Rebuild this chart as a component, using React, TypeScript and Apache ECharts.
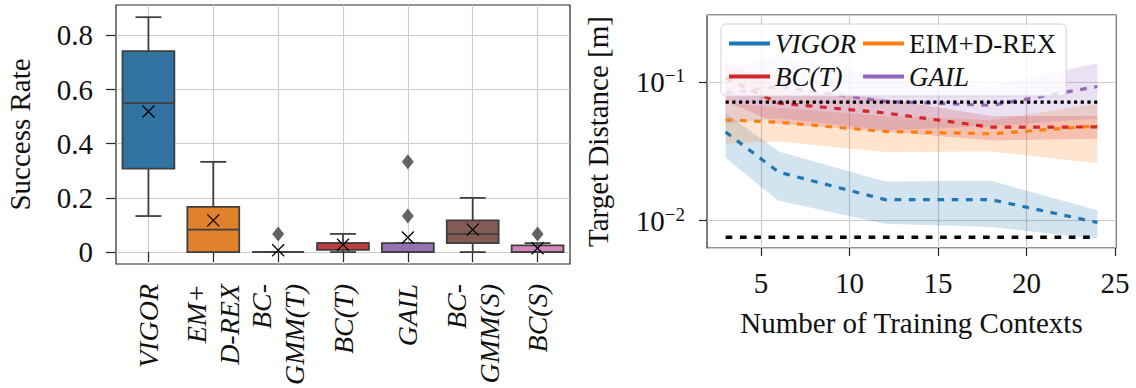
import React, { useEffect, useRef } from 'react';
import * as echarts from 'echarts';

// ---------- Success rate box plot ----------
const methods = ['VIGOR', 'EM+\nD-REX', 'BC-\nGMM(T)', 'BC(T)', 'GAIL', 'BC-\nGMM(S)', 'BC(S)'];
const boxColors = ['#3274a1', '#e1812c', '#3a923a', '#c03d3e', '#9372b2', '#845b53', '#d684bd'];
// [lower whisker, Q1, median, Q3, upper whisker]
const boxStats = [
  [0.133, 0.308, 0.55, 0.742, 0.867],
  [0, 0, 0.083, 0.167, 0.333],
  [0, 0, 0, 0, 0],
  [0, 0.008, 0.033, 0.033, 0.067],
  [0, 0, 0, 0.033, 0.033],
  [0, 0.033, 0.067, 0.117, 0.2],
  [0, 0, 0, 0.025, 0.033],
];
const means = [0.519, 0.117, 0.0067, 0.027, 0.054, 0.083, 0.014];
// [method index, value]
const outliers = [
  [2, 0.067],
  [4, 0.133],
  [4, 0.333],
  [6, 0.067],
];
const rateTicks = [0, 0.2, 0.4, 0.6, 0.8];

// ---------- Target distance vs. number of training contexts ----------
const contexts = [3, 6, 12, 18, 24];
const vigorMean = [0.0437, 0.0224, 0.0142, 0.0142, 0.0097];
const vigorLow = [0.0283, 0.0139, 0.0095, 0.009, 0.0074];
const vigorHigh = [0.06, 0.0316, 0.0192, 0.0194, 0.0119];
const eimMean = [0.0535, 0.0514, 0.0441, 0.0424, 0.0484];
const eimLow = [0.036, 0.0373, 0.0313, 0.0316, 0.026];
const eimHigh = [0.071, 0.0655, 0.057, 0.0532, 0.07];
const bcMean = [0.107, 0.0706, 0.06, 0.0473, 0.0475];
const bcLow = [0.073, 0.05, 0.044, 0.038, 0.039];
const bcHigh = [0.141, 0.091, 0.076, 0.057, 0.057];
const gailMean = [0.0833, 0.093, 0.0725, 0.068, 0.093];
const gailLow = [0.05, 0.055, 0.045, 0.048, 0.055];
const gailHigh = [0.125, 0.155, 0.11, 0.094, 0.137];
const expertDistance = 0.00759;
const thresholdDistance = 0.0718;
const refRange = [3, 24];
const contextTicks = [5, 10, 15, 20, 25];

const FONT = 'Liberation Serif, serif';
const AXIS_FS = 29;
const CAT_FS = 28;
const LEGEND_FS = 27;
const TEXT = '#111111';
const GRID_LINE = '#cccccc';
const SPINE = '#262626';
const EDGE = '#3f3f3f';

const curves = [
  { name: 'VIGOR', color: '#1f77b4', mean: vigorMean, low: vigorLow, high: vigorHigh },
  { name: 'EIM+D-REX', color: '#ff7f0e', mean: eimMean, low: eimLow, high: eimHigh },
  { name: 'BC(T)', color: '#d62728', mean: bcMean, low: bcLow, high: bcHigh },
  { name: 'GAIL', color: '#9467bd', mean: gailMean, low: gailLow, high: gailHigh },
];
const italicNames = ['VIGOR', 'BC(T)', 'GAIL'];

function buildOption(): any {
  const boxSeries = {
    type: 'custom',
    xAxisIndex: 0,
    yAxisIndex: 0,
    z: 3,
    data: boxStats.map((s, i) => [i, ...s, means[i]]),
    encode: { x: 0, y: [1, 2, 3, 4, 5, 6] },
    renderItem: (params: any, api: any) => {
      const i = api.value(0);
      const lo = api.value(1);
      const q1 = api.value(2);
      const med = api.value(3);
      const q3 = api.value(4);
      const hi = api.value(5);
      const mean = api.value(6);
      const band = api.size([1, 0])[0];
      const half = band * 0.4;
      const cap = band * 0.2;
      const [cx, yLo] = api.coord([i, lo]);
      const yQ1 = api.coord([i, q1])[1];
      const yMed = api.coord([i, med])[1];
      const yQ3 = api.coord([i, q3])[1];
      const yHi = api.coord([i, hi])[1];
      const [mx, my] = api.coord([i, mean]);
      const edge = { stroke: EDGE, lineWidth: 1.8 };
      const m = 6;
      return {
        type: 'group',
        children: [
          { type: 'line', shape: { x1: cx, y1: yLo, x2: cx, y2: yQ1 }, style: edge },
          { type: 'line', shape: { x1: cx, y1: yQ3, x2: cx, y2: yHi }, style: edge },
          { type: 'line', shape: { x1: cx - cap, y1: yLo, x2: cx + cap, y2: yLo }, style: edge },
          { type: 'line', shape: { x1: cx - cap, y1: yHi, x2: cx + cap, y2: yHi }, style: edge },
          {
            type: 'rect',
            shape: { x: cx - half, y: yQ3, width: half * 2, height: yQ1 - yQ3 },
            style: { fill: boxColors[i], stroke: EDGE, lineWidth: 1.8 },
          },
          { type: 'line', shape: { x1: cx - half, y1: yMed, x2: cx + half, y2: yMed }, style: edge },
          { type: 'line', shape: { x1: mx - m, y1: my - m, x2: mx + m, y2: my + m }, style: { stroke: '#000', lineWidth: 1.3 } },
          { type: 'line', shape: { x1: mx - m, y1: my + m, x2: mx + m, y2: my - m }, style: { stroke: '#000', lineWidth: 1.3 } },
        ],
      };
    },
  };

  const outlierSeries = {
    type: 'scatter',
    xAxisIndex: 0,
    yAxisIndex: 0,
    z: 4,
    symbol: 'diamond',
    symbolSize: [12, 15],
    itemStyle: { color: EDGE },
    data: outliers,
  };

  const bandSeries = curves.map((c) => ({
    type: 'custom',
    xAxisIndex: 1,
    yAxisIndex: 1,
    z: 2,
    silent: true,
    data: contexts.map((x, k) => [x, c.low[k], c.high[k]]),
    encode: { x: 0, y: [1, 2] },
    renderItem: (params: any, api: any) => {
      if (params.dataIndex !== 0) return null;
      const upper = contexts.map((x, k) => api.coord([x, c.high[k]]));
      const lower = contexts.map((x, k) => api.coord([x, c.low[k]])).reverse();
      return {
        type: 'polygon',
        shape: { points: upper.concat(lower) },
        style: { fill: c.color, opacity: 0.2 },
      };
    },
  }));

  const lineSeries = curves.map((c) => ({
    name: c.name,
    type: 'line',
    xAxisIndex: 1,
    yAxisIndex: 1,
    z: 3,
    symbol: 'none',
    color: c.color,
    lineStyle: { color: c.color, width: 3.2, type: [6.7, 7.6], cap: 'butt' },
    data: contexts.map((x, k) => [x, c.mean[k]]),
  }));

  const refSeries = [
    {
      name: 'expert',
      type: 'line',
      xAxisIndex: 1,
      yAxisIndex: 1,
      z: 3,
      symbol: 'none',
      lineStyle: { color: '#000', width: 3.3, type: [6.7, 7.6], cap: 'butt' },
      data: refRange.map((x) => [x, expertDistance]),
    },
    {
      name: 'threshold',
      type: 'line',
      xAxisIndex: 1,
      yAxisIndex: 1,
      z: 3,
      symbol: 'none',
      lineStyle: { color: '#000', width: 3.3, type: [3.2, 3.5], cap: 'butt' },
      data: refRange.map((x) => [x, thresholdDistance]),
    },
  ];

  const tickStyle = { color: SPINE, width: 1.2 };
  const splitStyle = { color: GRID_LINE, width: 1.2 };
  const axisText = { fontFamily: FONT, fontSize: AXIS_FS, color: TEXT };

  return {
    animation: false,
    textStyle: { fontFamily: FONT, color: TEXT },
    grid: [
      {
        left: 116, right: 566, top: 5, bottom: 124,
        show: true, borderColor: SPINE, borderWidth: 1.2,
        containLabel: false, outerBoundsMode: 'none',
      },
      {
        left: 707, right: 20, top: 15, bottom: 140,
        show: true, borderColor: SPINE, borderWidth: 1.2,
        containLabel: false, outerBoundsMode: 'none',
      },
    ],
    legend: {
      data: curves.map((c) => c.name),
      left: 721,
      top: 24,
      width: 336,
      orient: 'horizontal',
      icon: 'rect',
      itemWidth: 41,
      itemHeight: 4,
      itemGap: 6,
      padding: [6, 10, 6, 8],
      backgroundColor: 'rgba(255,255,255,0.8)',
      borderColor: '#d4d4d4',
      borderWidth: 1,
      borderRadius: 5,
      formatter: (name: string) => (italicNames.includes(name) ? `{i|${name}}` : `{n|${name}}`),
      textStyle: {
        fontFamily: FONT,
        color: TEXT,
        fontSize: LEGEND_FS,
        rich: {
          i: { fontFamily: FONT, fontStyle: 'italic', fontSize: LEGEND_FS, lineHeight: 30, width: 82, color: TEXT },
          n: { fontFamily: FONT, fontSize: LEGEND_FS, lineHeight: 30, color: TEXT },
        },
      },
    },
    xAxis: [
      {
        type: 'category',
        gridIndex: 0,
        data: methods,
        axisLine: { show: false },
        axisTick: { show: true, alignWithLabel: true, length: 10, lineStyle: tickStyle },
        splitLine: { show: true, alignWithLabel: true, lineStyle: splitStyle },
        axisLabel: {
          fontFamily: FONT,
          fontSize: CAT_FS,
          color: TEXT,
          rotate: 90,
          margin: 20,
          fontStyle: 'italic',
          lineHeight: 33,
        },
      },
      {
        type: 'value',
        gridIndex: 1,
        min: 1.95,
        max: 25.05,
        axisLine: { show: false },
        axisTick: { show: true, length: 8, lineStyle: tickStyle, customValues: contextTicks },
        splitLine: { show: true, lineStyle: splitStyle },
        axisLabel: { ...axisText, customValues: contextTicks, margin: 20 },
        name: 'Number of Training Contexts',
        nameLocation: 'middle',
        nameGap: 60,
        nameMoveOverlap: false,
        nameTextStyle: axisText,
      },
    ],
    yAxis: [
      {
        type: 'value',
        gridIndex: 0,
        min: -0.044,
        max: 0.912,
        axisLine: { show: false },
        axisTick: { show: true, length: 10, lineStyle: tickStyle, customValues: rateTicks },
        splitLine: { show: true, lineStyle: splitStyle },
        axisLabel: {
          ...axisText,
          customValues: rateTicks,
          margin: 23,
          formatter: (v: number) => (v === 0 ? '0' : v.toFixed(1)),
        },
        name: 'Success Rate',
        nameLocation: 'middle',
        nameGap: 82,
        nameMoveOverlap: false,
        nameTextStyle: axisText,
      },
      {
        type: 'log',
        logBase: 10,
        gridIndex: 1,
        min: 0.00635,
        max: 0.3055,
        axisLine: { show: false },
        axisTick: { show: true, length: 8, lineStyle: tickStyle },
        splitLine: { show: true, lineStyle: splitStyle },
        minorTick: { show: false },
        axisLabel: {
          showMinLabel: false,
          showMaxLabel: false,
          margin: 22,
          fontFamily: FONT,
          color: TEXT,
          formatter: (v: number) => {
            const e = Math.round(Math.log10(v));
            return `{b|10}{s|\u2212${Math.abs(e)}}`;
          },
          rich: {
            b: { fontFamily: FONT, fontSize: AXIS_FS, lineHeight: 32, color: TEXT },
            s: { fontFamily: FONT, fontSize: 19, lineHeight: 19, verticalAlign: 'top', color: TEXT },
          },
        },
        name: 'Target Distance [m]',
        nameLocation: 'middle',
        nameGap: 95,
        nameMoveOverlap: false,
        nameTextStyle: axisText,
      },
    ],
    series: [boxSeries, outlierSeries, ...bandSeries, ...lineSeries, ...refSeries],
  };
}

export default function App() {
  const ref = useRef<HTMLDivElement>(null);
  useEffect(() => {
    if (!ref.current) return;
    const chart = echarts.init(ref.current, undefined, { renderer: 'svg' });
    chart.setOption(buildOption());
    return () => chart.dispose();
  }, []);
  return (
    <div
      ref={ref}
      style={{ position: 'absolute', left: 0, top: 0, width: 1136, height: 388, background: '#fff' }}
    />
  );
}
